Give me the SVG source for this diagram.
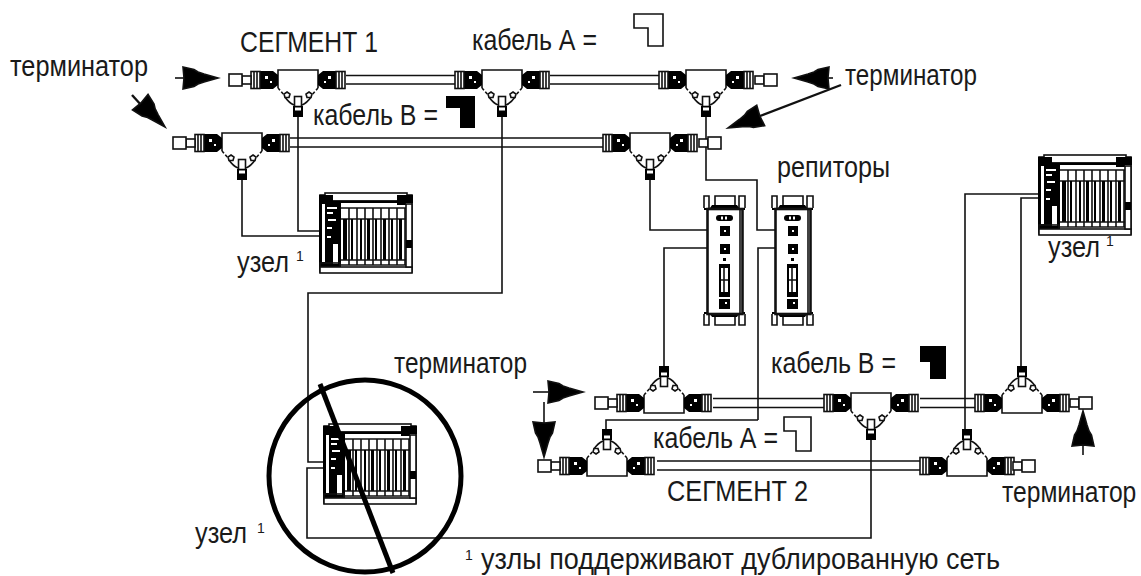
<svg xmlns="http://www.w3.org/2000/svg" xmlns:xlink="http://www.w3.org/1999/xlink" width="1141" height="576" viewBox="0 0 1141 576">
<style>
text{font-family:"Liberation Sans",Arial,sans-serif;font-size:29px;fill:#1a1a1a}
.sup{font-size:14px}
.l{fill:none;stroke:#111;stroke-width:1.6}
.w{fill:#fff;stroke:#111;stroke-width:1.6}
.b{fill:#000}
.wf{fill:#fff}
.ar{fill:none;stroke:#111;stroke-width:1.6}
</style>
<defs>
<g id="tee">
<path class="w" d="M-20-10H20V8L7 22H-7L-20 8Z" stroke="none" style="stroke:none"/>
<path class="l" d="M-20 8V-10H20V8"/>
<path class="l" stroke-dasharray="3 2" style="stroke-dasharray:3 2" d="M-20 8L-13 16M20 8L13 16"/>
<path class="l" d="M-13 17Q-9 23-4 25M13 17Q9 23 4 25"/>
<path class="w" d="M-11 12l3 2l-1 3.500h-4l-1-3.500zM11 12l3 2l-1 3.500h-4l-1-3.500z"/>
<rect class="w" x="-3.500" y="16.500" width="7" height="10"/>
<rect class="b" x="-5" y="26" width="10" height="11"/><rect class="wf" x="-3" y="27.500" width="6" height="3"/>
</g>
<g id="conn">
<path class="b" d="M-20-5L-25-9H-38V9H-25L-20 5Z"/>
<rect class="wf" x="-33" y="-4" width="3" height="3"/><rect class="wf" x="-28" y="1" width="2" height="2"/>
<rect class="w" x="-47" y="-8.500" width="9" height="17"/>
<path class="l" d="M-44-8.500V8.500M-41-8.500V8.500"/>
</g>
<g id="term">
<rect class="w" x="-56" y="-4" width="9" height="8"/>
<rect class="w" x="-69" y="-6" width="13" height="12"/>
</g>
<g id="node">
<rect class="w" x="1" y="3" width="92" height="77"/>
<rect class="w" x="6" y="1" width="82" height="8"/>
<path class="b" d="M0 3H14V10H22V77H0ZM78 3H94V11H87V13H78Z"/>
<rect class="b" x="14" y="8.500" width="66" height="2.500"/>
<path class="wf" d="M8 15H18V17H8ZM8 20H14V22H8ZM9 27H17V29H9ZM8 35H13V37H8ZM3 12H6V70H3ZM14 52H19V72H14ZM8 44H12V46H8Z"/>
<rect class="l" x="1" y="71" width="20" height="7"/>
<path class="l" d="M22 16H87M30 16V73M38 16V73M46 16V73M54 16V73M62 16V73M70 16V73M78 16V73M86 16V73M22 73H87"/>
<path class="l" d="M22 27H87"/>
<path class="b" d="M24 27h4v41h-4zM32 27h2v41h-2zM41 27h2v41h-2zM48 27h3v41h-3zM56 27h2v41h-2zM64 27h3v41h-3zM72 27h2v41h-2zM80 27h3v41h-3z"/>
<path class="l" d="M22 68H87"/>
<rect class="w" x="1" y="75" width="92" height="6"/>
<rect class="w" x="87" y="12" width="6" height="63"/>
<rect class="b" x="87" y="48" width="6" height="8"/>
</g>
<g id="rep">
<path class="l" d="M0 12V0H5V12M11 10V0H31V10M35 12V0H41V12M0 118V129H5V118M11 120V129H31V120M35 118V129H41V118"/>
<path class="b" d="M0 12H6L8 9H33L35 12H41V14H0ZM0 116H41V118H35L33 121H8L6 118H0Z"/>
<rect class="w" x="3.500" y="13" width="35" height="105" stroke-width="2.600" style="stroke-width:2.600"/>
<path class="l" d="M36 13V118"/>
<rect class="b" x="12" y="19" width="17" height="6" rx="3"/><rect class="wf" x="17" y="20.500" width="2" height="3"/><rect class="wf" x="21" y="20.500" width="2" height="3"/>
<rect class="b" x="16" y="30" width="10" height="10"/><rect class="wf" x="20" y="34" width="2" height="2"/>
<rect class="b" x="16" y="48" width="10" height="10"/><rect class="wf" x="20" y="52" width="2" height="2"/>
<rect class="b" x="19" y="62" width="3" height="3"/>
<rect class="b" x="15" y="68" width="11" height="33"/><rect class="wf" x="17" y="72" width="7" height="24"/><path class="l" d="M20 72V96M17 84H24"/>
<rect class="b" x="15" y="103" width="11" height="10"/><rect class="wf" x="21" y="106" width="2" height="2"/>
</g>
<g id="arrow"><path class="b" d="M0 0L-14-4L-20-6L-24-8.500L-35-11L-34 0L-35 11L-24 8.500L-20 6L-14 4Z"/></g>
</defs>

<g id="connectors" class="l">
<path class="l" d="M346 75.500H456M346 84H456M550 75.500H660M550 84H660M290 138H604M290 147H604M713 398.500H826M713 407.500H826M920 398.500H975M920 407.500H975M657 461H921M657 470H921"/>
<path class="l" d="M298 117V231H321M242 178V236H321M502 117V293H308V462H326M871 439V538H307V468H326M650 178V230H722M706 117V180H757V230H790M664 367V248H722M758 420V248H790M758 420H606V430M1040 194H965V430M1040 198H1021V367"/>
<g id="arrows">
<path class="ar" d="M175 78H190"/><use href="#arrow" transform="translate(218 78)"/>
<path d="M132 95L142 106" fill="none" stroke="#111" stroke-width="2.400"/><use href="#arrow" transform="translate(165 127) rotate(45)"/>
<path class="ar" d="M833 78H815"/><use href="#arrow" transform="translate(794 78) rotate(180)"/>
<path d="M841 85L760 116" fill="none" stroke="#111" stroke-width="2.400"/><use href="#arrow" transform="translate(728 128) rotate(159)"/>
<path class="ar" d="M533 392H555"/><use href="#arrow" transform="translate(583 392)"/>
<path class="ar" d="M544 402V425"/><use href="#arrow" transform="translate(544 457) rotate(90)"/>
<path class="ar" d="M1083 455V440"/><use href="#arrow" transform="translate(1083 411) rotate(-90)"/>
</g>
</g>

<g id="tee1"><use href="#tee" transform="translate(298 80)"/><use href="#conn" transform="translate(298 80)"/><use href="#term" transform="translate(298 80)"/><use href="#conn" transform="translate(298 80) scale(-1 1)"/></g>
<g id="tee2"><use href="#tee" transform="translate(502 80)"/><use href="#conn" transform="translate(502 80)"/><use href="#conn" transform="translate(502 80) scale(-1 1)"/></g>
<g id="tee3"><use href="#tee" transform="translate(706 80)"/><use href="#conn" transform="translate(706 80)"/><use href="#conn" transform="translate(706 80) scale(-1 1)"/><use href="#term" transform="translate(708 80) scale(-1 1)"/></g>
<g id="tee4"><use href="#tee" transform="translate(242 143)"/><use href="#conn" transform="translate(242 143)"/><use href="#term" transform="translate(242 143)"/><use href="#conn" transform="translate(242 143) scale(-1 1)"/></g>
<g id="tee5"><use href="#tee" transform="translate(650 143)"/><use href="#conn" transform="translate(650 143)"/><use href="#conn" transform="translate(650 143) scale(-1 1)"/><use href="#term" transform="translate(652 143) scale(-1 1)"/></g>
<g id="tee6"><use href="#tee" transform="translate(664 403) scale(1 -1)"/><use href="#conn" transform="translate(664 403)"/><use href="#term" transform="translate(664 403)"/><use href="#conn" transform="translate(664 403) scale(-1 1)"/></g>
<g id="tee7"><use href="#tee" transform="translate(871 403)"/><use href="#conn" transform="translate(871 403)"/><use href="#conn" transform="translate(871 403) scale(-1 1)"/></g>
<g id="tee8"><use href="#tee" transform="translate(1022 403) scale(1 -1)"/><use href="#conn" transform="translate(1022 403)"/><use href="#conn" transform="translate(1022 403) scale(-1 1)"/><use href="#term" transform="translate(1023 403) scale(-1 1)"/></g>
<g id="tee9"><use href="#tee" transform="translate(607 466) scale(1 -1)"/><use href="#conn" transform="translate(607 466)"/><use href="#term" transform="translate(607 466)"/><use href="#conn" transform="translate(607 466) scale(-1 1)"/></g>
<g id="tee10"><use href="#tee" transform="translate(967 466) scale(1 -1)"/><use href="#conn" transform="translate(967 466)"/><use href="#conn" transform="translate(967 466) scale(-1 1)"/><use href="#term" transform="translate(966 466) scale(-1 1)"/></g>

<g id="node1"><use href="#node" transform="translate(319 192)"/></g>
<g id="node2"><use href="#node" transform="translate(323 423)"/></g>
<g id="node3"><use href="#node" transform="translate(1038 154)"/></g>
<g id="repeater1"><use href="#rep" transform="translate(704 196)"/></g>
<g id="repeater2"><use href="#rep" transform="translate(772 196)"/></g>

<g id="prohibit"><circle cx="365" cy="476" r="96" fill="none" stroke="#000" stroke-width="5"/><path d="M320 384L393 573" stroke="#000" stroke-width="5" fill="none"/></g>

<g id="cable-keys">
<path class="w" d="M634 14H663V46H648V28H634Z"/>
<path class="b" d="M446 96H475V128H460V108H446Z"/>
<path class="b" d="M920 346H946V379H930V362H920Z"/>
<path class="w" d="M784 417H811V451H796V431H784Z"/>
</g>

<g id="labels">
<text x="10" y="76" textLength="138" lengthAdjust="spacingAndGlyphs">терминатор</text>
<text x="240" y="52" textLength="138" lengthAdjust="spacingAndGlyphs">СЕГМЕНТ 1</text>
<text x="472" y="50" textLength="125" lengthAdjust="spacingAndGlyphs">кабель А =</text>
<text x="313" y="125" textLength="125" lengthAdjust="spacingAndGlyphs">кабель В =</text>
<text x="845" y="85" textLength="132" lengthAdjust="spacingAndGlyphs">терминатор</text>
<text x="777" y="177" textLength="113" lengthAdjust="spacingAndGlyphs">репиторы</text>
<text x="237" y="272" textLength="52" lengthAdjust="spacingAndGlyphs">узел</text><text class="sup" x="296" y="261">1</text>
<text x="1048" y="257" textLength="52" lengthAdjust="spacingAndGlyphs">узел</text><text class="sup" x="1106" y="246">1</text>
<text x="394" y="373" textLength="133" lengthAdjust="spacingAndGlyphs">терминатор</text>
<text x="771" y="373" textLength="125" lengthAdjust="spacingAndGlyphs">кабель В =</text>
<text x="653" y="448" textLength="125" lengthAdjust="spacingAndGlyphs">кабель А =</text>
<text x="667" y="501" textLength="141" lengthAdjust="spacingAndGlyphs">СЕГМЕНТ 2</text>
<text transform="translate(1002 502) scale(.85 1)" x="0" y="0">терминатор</text>
<text x="195" y="543" textLength="52" lengthAdjust="spacingAndGlyphs">узел</text><text class="sup" x="257" y="533">1</text>
<text class="sup" x="465" y="560">1</text>
<text x="481" y="569" textLength="519" lengthAdjust="spacingAndGlyphs">узлы поддерживают дублированную сеть</text>
</g>
</svg>
